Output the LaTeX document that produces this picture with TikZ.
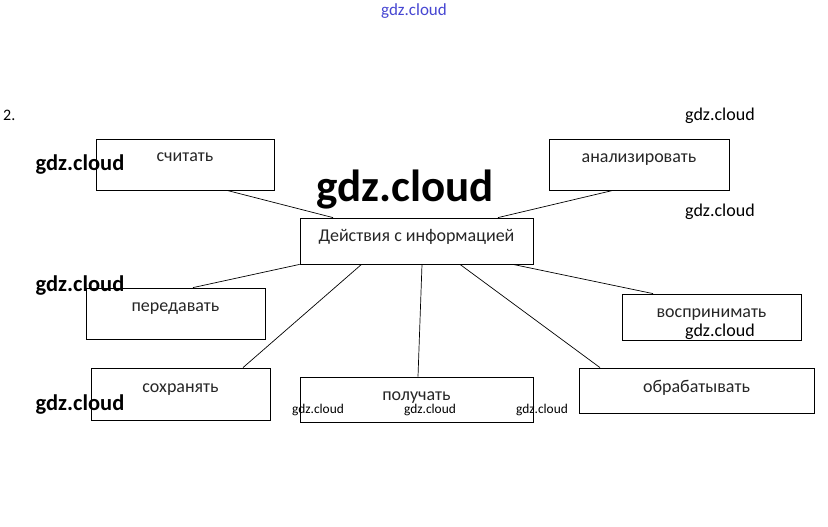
\documentclass[tikz,border=0pt]{standalone}
\usepackage{fontspec}
\setmainfont{Carlito}

\begin{document}
\begin{tikzpicture}[
  x=1pt, y=-1pt,
  action/.style={draw, line width=0.8pt, inner sep=0pt, text=black!85,
    font=\fontsize{18}{20}\selectfont, text height=12pt, text depth=#1},
  action/.default=16pt,
  link/.style={line width=0.7pt},
  wmark/.style={inner sep=0pt, font=\fontsize{18}{20}\selectfont},
  wbold/.style={inner sep=0pt, font=\bfseries\fontsize{22.5}{24}\selectfont},
  wsmall/.style={inner sep=0pt, font=\fontsize{13.4}{15}\selectfont}
]
\useasboundingbox[fill=white] (0,0) rectangle (828,527);

% boxes
\node[action=18.6pt, minimum width=178, minimum height=51] (read) at (185,164.5) {считать};
\node[action=16.6pt, minimum width=180, minimum height=51] (analyze) at (639,164.5) {анализировать};
\node[action=11.6pt, minimum width=233, minimum height=46] (hub) at (416.5,241) {Действия с информацией};
\node[action=16.6pt, minimum width=179, minimum height=51] (transmit) at (175.5,313.5) {передавать};
\node[action=11.6pt, minimum width=179, minimum height=46] (perceive) at (711.5,317) {воспринимать};
\node[action=15.6pt, minimum width=179, minimum height=52] (store) at (180.5,394) {сохранять};
\node[action=10.6pt, minimum width=233, minimum height=45] (receive) at (416.5,399.5) {получать};
\node[action=8.6pt, minimum width=235, minimum height=45] (process) at (696.5,390.5) {обрабатывать};

% connectors
\draw[link] ([xshift=42]read.south) -- ([xshift=-83.5]hub.north);
\draw[link] ([xshift=-26]analyze.south) -- ([xshift=81.5]hub.north);
\draw[link] (hub.south west) -- ([xshift=17.5]transmit.north);
\draw[link] ([xshift=-55]hub.south) -- ([xshift=62.5]store.north);
\draw[link] ([xshift=5.5]hub.south) -- ([xshift=1.5]receive.north);
\draw[link] ([xshift=43.5]hub.south) -- ([xshift=-96.5]process.north);
\draw[link] ([xshift=96.5]hub.south) -- ([xshift=-58.5]perceive.north);

% marks
\node[inner sep=0pt, font=\fontsize{17}{19}\selectfont, text={rgb,255:red,70;green,70;blue,210}] (wm-top) at (414,11) {gdz.cloud};
\node[inner sep=0pt, anchor=west, font=\fontsize{16}{18}\selectfont] (num) at (3,115) {2.};
\node[wmark] (wm-r1) at (720,116) {gdz.cloud};
\node[wmark] (wm-r2) at (720,212) {gdz.cloud};
\node[wmark] (wm-r3) at (720,332) {gdz.cloud};
\node[wbold] (wm-l1) at (80,165) {gdz.cloud};
\node[wbold] (wm-l2) at (80,286) {gdz.cloud};
\node[wbold] (wm-l3) at (80,405) {gdz.cloud};
\node[inner sep=0pt, font=\bfseries\fontsize{45}{48}\selectfont] (wm-big) at (405,190) {gdz.cloud};
\node[wsmall] (wm-s1) at (318,410) {gdz.cloud};
\node[wsmall] (wm-s2) at (430,410) {gdz.cloud};
\node[wsmall] (wm-s3) at (542,410) {gdz.cloud};
\end{tikzpicture}
\end{document}
